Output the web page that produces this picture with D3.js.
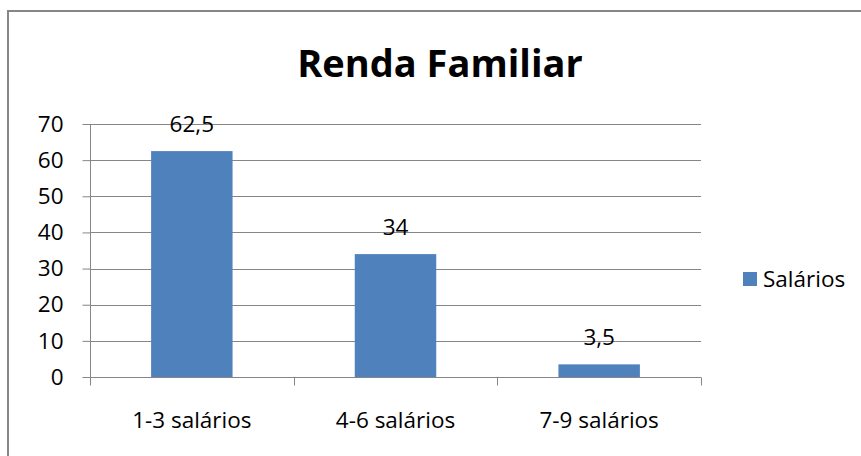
<!DOCTYPE html>
<html>
<head>
<meta charset="utf-8">
<script src="https://cdn.jsdelivr.net/npm/d3@7"></script>
<style>
  body { margin: 0; background: #fff; }
  text { font-family: "Open Sans", sans-serif; fill: #000; }
</style>
</head>
<body>
<div id="chart"></div>
<script>
// data
const categories = ["1-3 salários", "4-6 salários", "7-9 salários"];
const values = [62.5, 34, 3.5];
const valueLabels = ["62,5", "34", "3,5"];
const yTicks = [0, 10, 20, 30, 40, 50, 60, 70];
const seriesName = "Salários";

const W = 861, H = 456;
const plot = {left: 90, right: 701, top: 124, bottom: 377};
const fs = 22.5;

const svg = d3.select("#chart")
  .append("svg")
    .attr("width", W)
    .attr("height", H);

// outer chart border (only top and left fall inside the picture)
svg.append("rect")
  .attr("x", 8).attr("y", 11)
  .attr("width", W + 20).attr("height", H + 20)
  .attr("fill", "#fff")
  .attr("stroke", "#868686")
  .attr("stroke-width", 2);

// title
svg.append("text")
  .attr("x", 440).attr("y", 77)
  .attr("text-anchor", "middle")
  .attr("font-size", 38)
  .attr("font-weight", "bold")
  .text("Renda Familiar");

const x = d3.scaleBand()
  .domain(categories)
  .range([plot.left, plot.right])
  .paddingInner(0.6)
  .paddingOuter(0.3);

const y = d3.scaleLinear()
  .domain([0, 70])
  .range([plot.bottom, plot.top]);

// gridlines
svg.append("g")
  .selectAll("line")
  .data(yTicks.filter(d => d > 0))
  .join("line")
    .attr("x1", plot.left).attr("x2", plot.right)
    .attr("y1", d => Math.round(y(d)) + 0.5)
    .attr("y2", d => Math.round(y(d)) + 0.5)
    .attr("stroke", "#868686")
    .attr("stroke-width", 1);

// bars
svg.append("g")
  .selectAll("rect")
  .data(values)
  .join("rect")
    .attr("x", (d, i) => x(categories[i]))
    .attr("y", d => y(d))
    .attr("width", x.bandwidth())
    .attr("height", d => y(0) - y(d))
    .attr("fill", "#4F81BD");

// y axis
const yAxis = svg.append("g")
  .attr("transform", `translate(${plot.left + 0.5},0)`)
  .call(d3.axisLeft(y).tickValues(yTicks).tickSize(8).tickPadding(19));
yAxis.attr("font-family", null).attr("font-size", null);
yAxis.select(".domain").attr("stroke", "#868686").attr("d", `M0,${plot.top}V${plot.bottom}`);
yAxis.selectAll(".tick line").attr("stroke", "#868686");
yAxis.selectAll(".tick text").attr("font-size", fs);

// x axis
const step = x.step();
const xAxis = svg.append("g")
  .attr("transform", `translate(0,${Math.round(plot.bottom) + 0.5})`);
xAxis.append("line")
  .attr("x1", plot.left).attr("x2", plot.right)
  .attr("stroke", "#868686");
xAxis.selectAll(".xt")
  .data(d3.range(categories.length + 1))
  .join("line")
    .attr("class", "xt")
    .attr("x1", i => Math.round(plot.left + i * step) + 0.5)
    .attr("x2", i => Math.round(plot.left + i * step) + 0.5)
    .attr("y1", 0).attr("y2", 8)
    .attr("stroke", "#868686");
xAxis.selectAll(".xl")
  .data(categories)
  .join("text")
    .attr("class", "xl")
    .attr("x", d => x(d) + x.bandwidth() / 2)
    .attr("y", 50)
    .attr("text-anchor", "middle")
    .attr("font-size", fs)
    .text(d => d);

// data labels
svg.append("g")
  .selectAll("text")
  .data(values)
  .join("text")
    .attr("x", (d, i) => x(categories[i]) + x.bandwidth() / 2)
    .attr("y", d => y(d) - 19)
    .attr("text-anchor", "middle")
    .attr("font-size", fs)
    .text((d, i) => valueLabels[i]);

// legend
const legend = svg.append("g");
legend.append("rect")
  .attr("x", 743).attr("y", 272)
  .attr("width", 14).attr("height", 14)
  .attr("fill", "#4F81BD");
legend.append("text")
  .attr("x", 763).attr("y", 287)
  .attr("font-size", fs)
  .text(seriesName);
</script>
</body>
</html>
